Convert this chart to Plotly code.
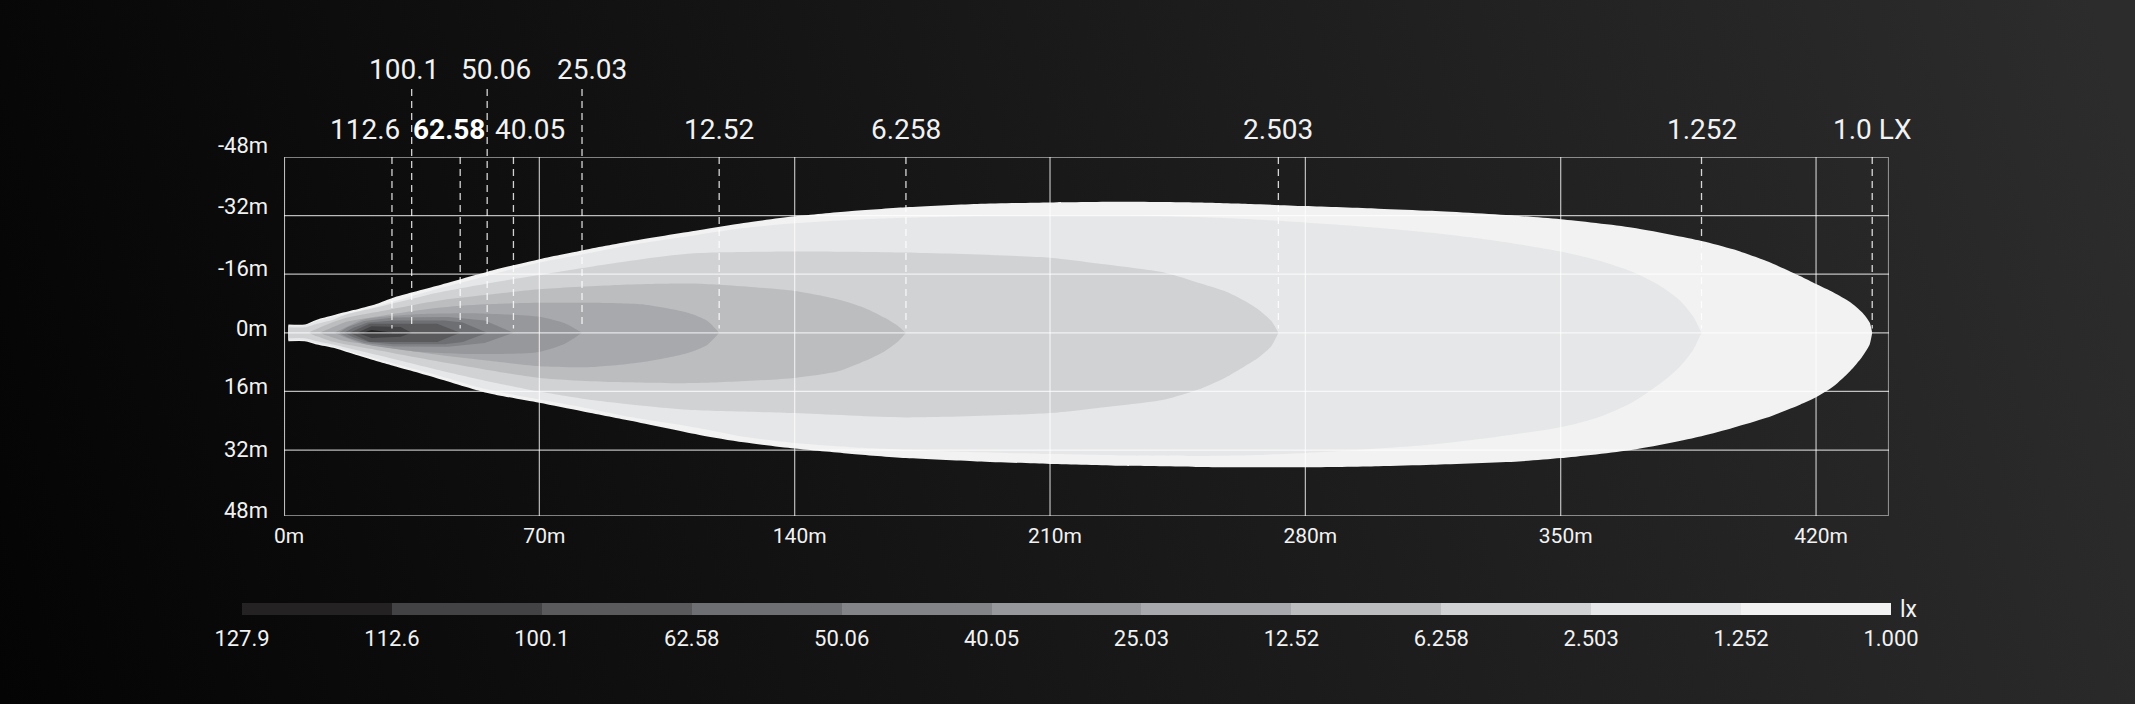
import base64
import plotly.graph_objects as go

# ---------------- data ----------------
x_tick_vals = [0, 70, 140, 210, 280, 350, 420]
y_tick_vals = [-48, -32, -16, 0, 16, 32, 48]
x_tick_text = [f"{v}m" for v in x_tick_vals]
y_tick_text = [f"{v}m" for v in y_tick_vals]

# isolux contour outlines: distance ahead (m), upper edge (m), lower edge (m)
lux_1000_x = [1.2, 5.7, 9.0, 13.5, 19, 25.3, 29.9, 41.7, 55.8, 70, 81.7, 95, 113.6, 126, 140, 155, 170.5, 190, 210, 230,
              250, 265, 280, 300, 314.7, 338.5, 350, 369.8, 388.6, 397.3, 406.4, 415.6, 420, 424.8, 429.3, 432.6, 434.7, 435.4]
lux_1000_top = [-2.3, -2.3, -3.6, -4.8, -6.2, -7.9, -9.6, -12.8, -16.7, -20.1, -22.5, -25.0, -28.0, -30.0, -31.8, -33.2, -34.3, -35.2, -35.6, -35.8,
                -35.6, -35.2, -34.6, -33.9, -33.3, -31.9, -31.0, -28.7, -25.1, -22.8, -19.6, -15.5, -13.3, -11.0, -8.4, -5.6, -2.8, 0]
lux_1000_bot = [2.3, 2.3, 3.2, 4.1, 5.8, 7.7, 9.0, 12.3, 16.4, 19.1, 21.4, 24.0, 27.8, 29.9, 31.6, 33.0, 34.2, 35.1, 35.8, 36.3,
                36.6, 36.7, 36.7, 36.4, 36.0, 35.1, 34.2, 31.9, 28.2, 25.9, 23.2, 19.6, 17.6, 14.6, 10.5, 6.6, 3.2, 0]

lux_1252_x = [1.2, 5.7, 9.0, 13.5, 19, 25.3, 41.7, 55.8, 70, 81.7, 95, 113.6, 126, 140, 155, 170.5, 190, 210, 230, 250,
              265, 280, 297, 314.7, 333.1, 350, 360.6, 369.8, 377.1, 382.6, 386.3, 388.6]
lux_1252_top = [-2.0, -2.0, -3.2, -4.3, -5.6, -7.2, -11.9, -15.6, -19.2, -21.4, -24.0, -26.8, -28.6, -29.9, -30.8, -31.4, -31.9, -32.1, -32.1, -31.6,
                -31.0, -30.1, -28.9, -27.3, -25.0, -22.2, -19.7, -16.6, -12.9, -8.9, -4.5, 0]
lux_1252_bot = [2.0, 2.0, 2.8, 3.7, 5.3, 7.1, 11.5, 15.5, 18.2, 20.3, 23.0, 26.0, 28.4, 30.1, 31.2, 31.9, 32.6, 33.1, 33.5, 33.6,
                33.4, 32.8, 31.8, 30.5, 28.3, 25.8, 23.0, 18.9, 14.0, 9.3, 4.7, 0]

lux_2503_x = [1.2, 5.7, 9.0, 13.5, 17.1, 25.3, 41.7, 55.8, 70, 85, 110.7, 140, 170.5, 210, 223.2, 241.5, 250.6, 257.9, 263.4, 267.1, 270.7, 272.6]
lux_2503_top = [-1.5, -1.5, -2.5, -3.6, -5.0, -6.9, -10.9, -13.5, -15.8, -18.2, -21.6, -22.2, -21.9, -20.5, -18.9, -16.4, -13.7, -11.4, -8.7, -6.4, -3.2, 0]
lux_2503_bot = [1.5, 1.5, 2.3, 3.2, 4.1, 6.0, 10.0, 13.2, 16.0, 18.4, 21.0, 21.9, 23.1, 21.9, 20.5, 18.2, 15.5, 12.3, 9.1, 6.8, 3.6, 0]

lux_6258_x = [7.0, 10, 12.6, 17.1, 25, 41.7, 55, 70, 90, 113.6, 140, 151.9, 159.2, 164.7, 168.4, 170.5]
lux_6258_top = [0, -1.5, -2.6, -4.1, -5.6, -8.7, -10.3, -11.9, -13.0, -13.4, -11.4, -9.1, -6.8, -4.1, -1.8, 0]
lux_6258_bot = [0, 1.3, 2.2, 3.2, 4.6, 7.7, 10.0, 12.3, 13.4, 13.7, 12.3, 10.5, 7.7, 5.0, 2.3, 0]

lux_1252x10_x = [10.0, 12.6, 15, 17.1, 25, 41.7, 55, 70, 85, 99, 110.7, 116, 119.3]
lux_1252x10_top = [0, -1.2, -2.2, -3.0, -4.4, -6.8, -7.8, -8.2, -8.2, -7.7, -5.5, -3.3, 0]
lux_1252x10_bot = [0, 1.0, 1.8, 2.3, 3.5, 5.9, 7.5, 9.1, 9.3, 7.9, 5.5, 3.3, 0]

lux_2503x10_x = [14, 15.7, 21.7, 35.3, 53.5, 70, 77, 81.7]
lux_2503x10_top = [0, -0.9, -3.6, -5.0, -5.3, -4.4, -2.6, 0]
lux_2503x10_bot = [0, 0.8, 3.0, 5.0, 5.8, 5.2, 3.0, 0]

lux_4005_x = [15, 17.5, 22, 30, 45, 55, 62.9]
lux_4005_top = [0, -1.6, -3.2, -4.2, -4.3, -3.4, 0]
lux_4005_bot = [0, 1.3, 2.8, 3.7, 3.8, 2.8, 0]

lux_5006_x = [16.5, 19, 23, 30, 44, 49, 55.7]
lux_5006_top = [0, -1.4, -2.8, -3.4, -3.4, -2.8, 0]
lux_5006_bot = [0, 1.2, 2.5, 3.1, 3.1, 2.5, 0]

lux_6258x10_x = [18, 23.5, 42, 48.3]
lux_6258x10_top = [0, -2.5, -2.5, 0]
lux_6258x10_bot = [0, 2.5, 2.5, 0]

lux_1001_x = [20, 24, 32, 35]
lux_1001_top = [0, -1.8, -1.6, 0]
lux_1001_bot = [0, 1.4, 1.1, 0]

lux_1126_x = [22, 24, 29.6]
lux_1126_top = [-0.1, -0.8, -0.1]
lux_1126_bot = [0.1, 0.2, 0.1]

contour_levels = [1.0, 1.252, 2.503, 6.258, 12.52, 25.03, 40.05, 50.06, 62.58, 100.1, 112.6]
contour_names = ["1.0 LX", "1.252", "2.503", "6.258", "12.52", "25.03", "40.05", "50.06", "62.58", "100.1", "112.6"]
contour_x = [lux_1000_x, lux_1252_x, lux_2503_x, lux_6258_x, lux_1252x10_x, lux_2503x10_x,
             lux_4005_x, lux_5006_x, lux_6258x10_x, lux_1001_x, lux_1126_x]
contour_top = [lux_1000_top, lux_1252_top, lux_2503_top, lux_6258_top, lux_1252x10_top, lux_2503x10_top,
               lux_4005_top, lux_5006_top, lux_6258x10_top, lux_1001_top, lux_1126_top]
contour_bot = [lux_1000_bot, lux_1252_bot, lux_2503_bot, lux_6258_bot, lux_1252x10_bot, lux_2503x10_bot,
               lux_4005_bot, lux_5006_bot, lux_6258x10_bot, lux_1001_bot, lux_1126_bot]

legend_labels = ["127.9", "112.6", "100.1", "62.58", "50.06", "40.05", "25.03", "12.52", "6.258", "2.503", "1.252", "1.000"]
legend_colors = ["#252223", "#434345", "#5a5a5c", "#6e6f72", "#838487", "#97989b",
                 "#a8a9ac", "#bcbdbf", "#d1d2d4", "#e6e7e8", "#f2f2f3"]

# ---------------- layout geometry / style ----------------
W, H = 2135, 704
PL, PR, PT, PB = 284, 1889, 157, 516     # main plot box (px)
CL, CR, CT, CB = 242, 1891, 603, 615     # colour bar box (px)
X_RANGE = [0, 440]
Y_RANGE = [50, -48]                      # reversed: negative side on top
FONT = "Roboto, 'Open Sans', sans-serif"
TXT = "#f2f2f2"

paper_w = CR - CL
paper_h = CB - PT


def px_x(px):
    return (px - CL) / paper_w


def px_y(py):
    return (CB - py) / paper_h


def data_y_to_paper(v):
    frac = (Y_RANGE[0] - v) / (Y_RANGE[0] - Y_RANGE[1])
    return px_y(PB) + frac * (px_y(PT) - px_y(PB))


# label placement: top-row assignment, pixel nudges
label_row = {"100.1": 1, "50.06": 1, "25.03": 1}
label_dx = {"112.6": -27, "62.58": -11, "40.05": 17, "100.1": -8, "50.06": 9, "25.03": 10}
y_label_lift = [12, 9, 6, 4, 5, 1, -2]
linear_levels = {40.05, 50.06, 62.58, 100.1, 112.6}

legend_values = [float(s) for s in legend_labels]

fig = go.Figure()

for lvl, xs, tops, bots in zip(contour_levels, contour_x, contour_top, contour_bot):
    seg = legend_values.index(lvl) - 1 if lvl in legend_values else len(legend_colors) - 1
    px_ = list(xs) + list(reversed(xs))
    py_ = list(tops) + list(reversed(bots))
    fig.add_trace(go.Scatter(
        x=px_, y=py_, mode="lines", fill="toself",
        fillcolor=legend_colors[seg],
        line=dict(width=0, color=legend_colors[seg],
                  shape="linear" if lvl in linear_levels else "spline",
                  smoothing=0.7),
        hoverinfo="skip", showlegend=False, xaxis="x", yaxis="y"))

# colour-bar legend as bars on a second axis pair
fig.add_trace(go.Bar(
    x=[i + 0.5 for i in range(len(legend_colors))],
    y=[1] * len(legend_colors), width=1,
    marker=dict(color=legend_colors, line=dict(width=0)),
    hoverinfo="skip", showlegend=False, xaxis="x2", yaxis="y2"))

shapes = []
grid_col = "rgba(255,255,255,0.72)"
border_col = "rgba(255,255,255,0.48)"
for v in x_tick_vals[1:]:
    shapes.append(dict(type="line", xref="x", yref="y", x0=v, x1=v, y0=Y_RANGE[1], y1=Y_RANGE[0],
                       line=dict(color=grid_col, width=1.2), layer="above"))
for v in y_tick_vals[1:-1]:
    shapes.append(dict(type="line", xref="x", yref="y", x0=X_RANGE[0], x1=X_RANGE[1], y0=v, y1=v,
                       line=dict(color=grid_col, width=1.2), layer="above"))
shapes.append(dict(type="rect", xref="x", yref="y", x0=X_RANGE[0], x1=X_RANGE[1], y0=Y_RANGE[1], y1=Y_RANGE[0],
                   line=dict(color=border_col, width=2.2), layer="above"))
shapes.append(dict(type="line", xref="x", yref="y", x0=X_RANGE[0], x1=X_RANGE[0], y0=Y_RANGE[1], y1=Y_RANGE[0],
                   line=dict(color="rgba(255,255,255,0.7)", width=1.4), layer="above"))

annotations = []
row_y = {1: px_y(70), 2: px_y(129)}
line_start = {1: px_y(89), 2: px_y(PT)}
line_end = data_y_to_paper(-1.2)
for lvl, name, xs in zip(contour_levels, contour_names, contour_x):
    row = label_row.get(name, 2)
    tip = xs[-1]
    shapes.append(dict(type="line", xref="x", yref="paper", x0=tip, x1=tip,
                       y0=line_start[row], y1=line_end,
                       line=dict(color="rgba(255,255,255,0.82)", width=1.3, dash="7px,5px"),
                       layer="above"))
    bold = name == "62.58"
    annotations.append(dict(
        xref="x", yref="paper", x=tip, y=row_y[row], xshift=label_dx.get(name, 0),
        text=f"<b>{name}</b>" if bold else name, showarrow=False,
        xanchor="center", yanchor="middle",
        font=dict(family=FONT, size=28, color="#ffffff" if bold else TXT)))

# y-axis labels (placed slightly above their gridlines, as in the source)
for v, t, lift in zip(y_tick_vals, y_tick_text, y_label_lift):
    annotations.append(dict(xref="paper", yref="y", x=px_x(PL), y=v, xshift=-14, yshift=lift,
                            text=t, showarrow=False, xanchor="right", yanchor="middle",
                            font=dict(family=FONT, size=22, color=TXT)))

annotations.append(dict(xref="x2", yref="y2", x=len(legend_colors), y=0.5, xshift=7,
                        text="lx", showarrow=False, xanchor="left", yanchor="middle",
                        font=dict(family=FONT, size=23, color=TXT)))

# gradient backdrop
svg = ('<svg xmlns="http://www.w3.org/2000/svg" width="2135" height="704" viewBox="0 0 2135 704" '
       'preserveAspectRatio="none"><defs><linearGradient id="g" gradientUnits="userSpaceOnUse" '
       'x1="0" y1="704" x2="2135" y2="150"><stop offset="0" stop-color="#040404"/>'
       '<stop offset="0.5" stop-color="#181818"/><stop offset="1" stop-color="#2c2c2c"/>'
       '</linearGradient></defs><rect width="2135" height="704" fill="url(#g)"/></svg>')
bg_src = "data:image/svg+xml;base64," + base64.b64encode(svg.encode()).decode()

fig.update_layout(
    width=W, height=H,
    margin=dict(l=CL, r=W - CR, t=PT, b=H - CB, pad=0),
    paper_bgcolor="#151515", plot_bgcolor="rgba(0,0,0,0)",
    showlegend=False, hovermode=False,
    font=dict(family=FONT, color=TXT),
    xaxis=dict(domain=[px_x(PL), px_x(PR)], range=X_RANGE, anchor="y",
               tickvals=x_tick_vals, ticktext=x_tick_text, showgrid=False, zeroline=False,
               showline=False, ticks="outside", ticklen=1, tickcolor="rgba(0,0,0,0)",
               ticklabelshift=5, tickfont=dict(family=FONT, size=21, color=TXT)),
    yaxis=dict(domain=[px_y(PB), 1], range=Y_RANGE, anchor="x",
               showticklabels=False, showgrid=False, zeroline=False, showline=False, ticks=""),
    xaxis2=dict(domain=[0, 1], range=[0, len(legend_colors)], anchor="y2",
                tickvals=list(range(len(legend_labels))), ticktext=legend_labels,
                showgrid=False, zeroline=False, showline=False, ticks="outside", ticklen=4,
                tickcolor="rgba(0,0,0,0)", tickfont=dict(family=FONT, size=22, color=TXT)),
    yaxis2=dict(domain=[0, px_y(CT)], range=[0, 1], anchor="x2", visible=False),
    bargap=0,
    shapes=shapes, annotations=annotations,
    images=[dict(source=bg_src, xref="paper", yref="paper",
                 x=-CL / paper_w, y=1 + PT / paper_h, sizex=W / paper_w, sizey=H / paper_h,
                 xanchor="left", yanchor="top", sizing="stretch", layer="below")],
)

fig.write_html(
    "out.html",
    config={"displayModeBar": False},
    post_script="document.body.style.margin='0';document.body.style.overflow='hidden';"
                "document.body.style.background='#111';",
)
